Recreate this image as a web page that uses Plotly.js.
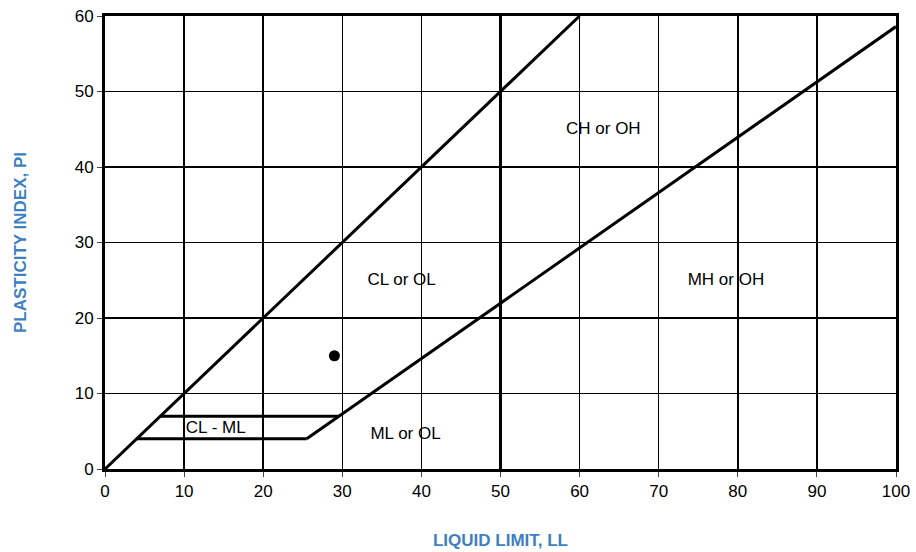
<!DOCTYPE html>
<html><head><script src="https://cdn.plot.ly/plotly-3.0.1.min.js"></script></head>
<body style="margin:0"><div id="plot" style="width:916px;height:552px"></div>
<script>
// chart lines
const uLineX = [0, 60], uLineY = [0, 60];
const aLineX = [25.5, 29.6, 100], aLineY = [4, 7, 58.6];
const clmlLowX = [4, 25.5], clmlLowY = [4, 4];
const clmlHighX = [7, 29.6], clmlHighY = [7, 7];
const divX = [50, 50], divY = [0, 60];
const sampleX = [29], sampleY = [15];
const zoneLabels = ['CH or OH', 'CL or OL', 'MH or OH', 'ML or OL', 'CL - ML'];
const zoneX = [63, 37.5, 78.5, 38, 14];
const zoneY = [45, 25, 25, 4.6, 5.3];

const blk = {color: '#000', width: 3};
const traces = [
  {x: uLineX, y: uLineY, mode: 'lines', line: blk},
  {x: aLineX, y: aLineY, mode: 'lines', line: blk},
  {x: clmlLowX, y: clmlLowY, mode: 'lines', line: blk},
  {x: clmlHighX, y: clmlHighY, mode: 'lines', line: blk},
  {x: divX, y: divY, mode: 'lines', line: blk},
  {x: sampleX, y: sampleY, mode: 'markers', marker: {color: '#000', size: 11}},
  {x: zoneX, y: zoneY, mode: 'text', text: zoneLabels, textfont: {size: 17, color: '#000'}}
];
const ax = {showgrid: true, gridcolor: '#000', gridwidth: 1.5, zeroline: false,
  showline: true, mirror: true, linecolor: '#000', linewidth: 3, ticks: 'outside',
  ticklen: 5, tickfont: {size: 17, color: '#000'}, dtick: 10};
const layout = {
  showlegend: false, paper_bgcolor: '#fff', plot_bgcolor: '#fff',
  font: {family: 'Arial, Liberation Sans'},
  margin: {l: 105, r: 20, t: 16, b: 83},
  xaxis: Object.assign({}, ax, {range: [0, 100],
    title: {text: '<b>LIQUID LIMIT, LL</b>', font: {size: 17, color: '#3d7fc0'}, standoff: 34}}),
  yaxis: Object.assign({}, ax, {range: [0, 60],
    title: {text: '<b>PLASTICITY INDEX, PI</b>', font: {size: 17, color: '#3d7fc0'}, standoff: 44}})
};
Plotly.newPlot('plot', traces, layout, {staticPlot: true});
</script></body></html>
